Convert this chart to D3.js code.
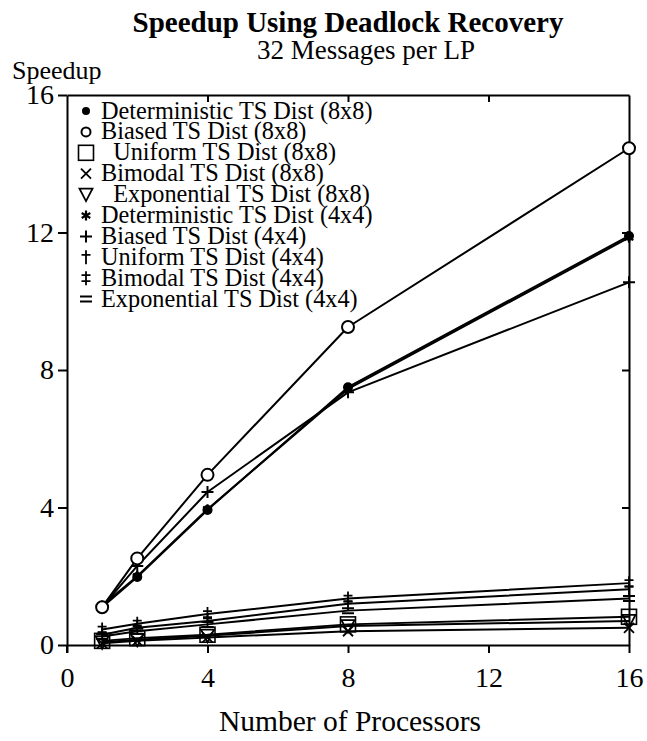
<!DOCTYPE html>
<html>
<head>
<meta charset="utf-8">
<script src="https://cdn.jsdelivr.net/npm/d3@7/dist/d3.min.js"></script>
<style>
  html, body { margin: 0; padding: 0; background: #fff; }
  svg { display: block; }
  text { font-family: "Liberation Serif", "Times New Roman", serif; fill: #000; }
</style>
</head>
<body>
<svg id="chart" width="647" height="741"></svg>
<script>
// Number of processors on the x axis
const processors = [1, 2, 4, 8, 16];

// Series names (legend order) and their marker kinds
const seriesNames = [
  "Deterministic TS Dist (8x8)",
  "Biased TS Dist (8x8)",
  "  Uniform TS Dist (8x8)",
  "Bimodal TS Dist (8x8)",
  "  Exponential TS Dist (8x8)",
  "Deterministic TS Dist (4x4)",
  "Biased TS Dist (4x4)",
  "Uniform TS Dist (4x4)",
  "Bimodal TS Dist (4x4)",
  "Exponential TS Dist (4x4)"
];
const seriesMarkers = ["dot", "circle", "square", "times", "tri", "star", "plus", "dagger", "ddagger", "equals"];

// Speedup per series, one value per processor count
const detSpeedup8   = [1.10, 1.98, 3.93, 7.50, 11.90];
const biasSpeedup8  = [1.10, 2.52, 4.95, 9.25, 14.45];
const unifSpeedup8  = [0.12, 0.20, 0.30, 0.60, 0.82];
const bimoSpeedup8  = [0.05, 0.12, 0.22, 0.40, 0.50];
const expoSpeedup8  = [0.08, 0.15, 0.27, 0.55, 0.70];
const detSpeedup4   = [1.15, 2.00, 3.95, 7.45, 11.85];
const biasSpeedup4  = [1.10, 2.30, 4.45, 7.35, 10.55];
const unifSpeedup4  = [0.30, 0.50, 0.70, 1.20, 1.62];
const bimoSpeedup4  = [0.45, 0.62, 0.90, 1.35, 1.80];
const expoSpeedup4  = [0.25, 0.40, 0.60, 1.00, 1.35];

const seriesValues = [detSpeedup8, biasSpeedup8, unifSpeedup8, bimoSpeedup8, expoSpeedup8,
                      detSpeedup4, biasSpeedup4, unifSpeedup4, bimoSpeedup4, expoSpeedup4];

const xTicks = [0, 4, 8, 12, 16];
const yTicks = [0, 4, 8, 12, 16];

const titleText = "Speedup Using Deadlock Recovery";
const subtitleText = "32 Messages per LP";
const yAxisTitle = "Speedup";
const xAxisTitle = "Number of Processors";

// ---- layout ----
const svg = d3.select("#chart");
const plotL = 67, plotR = 629, plotT = 95, plotB = 645;

const x = d3.scaleLinear().domain([0, 16]).range([plotL, plotR]);
const y = d3.scaleLinear().domain([0, 16]).range([plotB, plotT]);

// Marker shapes, drawn centred on the origin
function markerShape(g, kind, s) {
  const k = s || 1;
  switch (kind) {
    case "dot":
      g.append("circle").attr("r", 5 * k).attr("fill", "#000");
      break;
    case "circle":
      g.append("circle").attr("r", 6 * k).attr("fill", "#fff").attr("stroke", "#000").attr("stroke-width", 2);
      break;
    case "square":
      g.append("rect").attr("x", -7.5 * k).attr("y", -7.5 * k).attr("width", 15 * k).attr("height", 15 * k)
        .attr("fill", "none").attr("stroke", "#000").attr("stroke-width", 1.6);
      break;
    case "times":
      g.append("path").attr("d", `M${-5*k},${-5*k}L${5*k},${5*k}M${-5*k},${5*k}L${5*k},${-5*k}`)
        .attr("stroke", "#000").attr("stroke-width", 1.8);
      break;
    case "tri":
      g.append("path").attr("d", `M${-6.5*k},${-6*k}L${6.5*k},${-6*k}L0,${6.5*k}Z`)
        .attr("fill", "none").attr("stroke", "#000").attr("stroke-width", 1.8);
      break;
    case "star":
      g.append("path").attr("d", `M0,${-5*k}V${5*k}M${-4.3*k},${-2.5*k}L${4.3*k},${2.5*k}M${-4.3*k},${2.5*k}L${4.3*k},${-2.5*k}`)
        .attr("stroke", "#000").attr("stroke-width", 2.2);
      break;
    case "plus":
      g.append("path").attr("d", `M${-6*k},0H${6*k}M0,${-6*k}V${6*k}`)
        .attr("stroke", "#000").attr("stroke-width", 2);
      break;
    case "dagger":
      g.append("path").attr("d", `M0,${-7*k}V${7*k}M${-4.5*k},${-2.5*k}H${4.5*k}`)
        .attr("stroke", "#000").attr("stroke-width", 1.8);
      break;
    case "ddagger":
      g.append("path").attr("d", `M0,${-7*k}V${7*k}M${-4.5*k},${-3*k}H${4.5*k}M${-4.5*k},${3*k}H${4.5*k}`)
        .attr("stroke", "#000").attr("stroke-width", 1.8);
      break;
    case "equals":
      g.append("path").attr("d", `M${-6*k},${-2.5*k}H${6*k}M${-6*k},${2.5*k}H${6*k}`)
        .attr("stroke", "#000").attr("stroke-width", 2);
      break;
  }
}

// ---- titles ----
svg.append("text").attr("x", 348).attr("y", 32).attr("text-anchor", "middle")
  .attr("font-size", 29).attr("font-weight", "bold").text(titleText);
svg.append("text").attr("x", 366).attr("y", 59).attr("text-anchor", "middle")
  .attr("font-size", 27).text(subtitleText);
svg.append("text").attr("x", 12).attr("y", 79)
  .attr("font-size", 26).text(yAxisTitle);
svg.append("text").attr("x", 350).attr("y", 731).attr("text-anchor", "middle")
  .attr("font-size", 29.5).text(xAxisTitle);

// ---- axes ----
const axisFont = 28;
const gx = svg.append("g").attr("transform", `translate(0,${plotB})`)
  .call(d3.axisBottom(x).tickValues(xTicks).tickSize(8).tickSizeOuter(0).tickPadding(14).tickFormat(d3.format("d")));
const gy = svg.append("g").attr("transform", `translate(${plotL},0)`)
  .call(d3.axisLeft(y).tickValues(yTicks).tickSize(9).tickSizeOuter(0).tickPadding(4).tickFormat(d3.format("d")));
const gt = svg.append("g").attr("transform", `translate(0,${plotT})`)
  .call(d3.axisTop(x).tickValues(xTicks.slice(1, -1)).tickSize(-7).tickSizeOuter(0).tickFormat(""));
const gr = svg.append("g").attr("transform", `translate(${plotR},0)`)
  .call(d3.axisRight(y).tickValues(yTicks.slice(1, -1)).tickSize(-7).tickSizeOuter(0).tickFormat(""));

[gx, gy, gt, gr].forEach(g => {
  g.selectAll(".domain").attr("stroke", "#000").attr("stroke-width", 2);
  g.selectAll(".tick line").attr("stroke", "#000").attr("stroke-width", 2);
  g.selectAll(".tick text").attr("font-family", "Liberation Serif, serif").attr("font-size", axisFont).attr("fill", "#000");
});
// y axis extends slightly below the x axis
svg.append("line").attr("x1", plotL).attr("x2", plotL).attr("y1", plotB).attr("y2", plotB + 8)
  .attr("stroke", "#000").attr("stroke-width", 2);

// ---- series lines and markers ----
const line = d3.line().x((d, i) => x(processors[i])).y(d => y(d));
const plot = svg.append("g");

// lower-speedup series first, so the upper group sits on top
const drawOrder = [3, 4, 2, 9, 7, 8, 6, 5, 0, 1];
drawOrder.forEach(si => {
  plot.append("path").datum(seriesValues[si]).attr("d", line)
    .attr("fill", "none").attr("stroke", "#000").attr("stroke-width", 2).attr("stroke-linejoin", "round");
});
drawOrder.forEach(si => {
  seriesValues[si].forEach((v, i) => {
    const g = plot.append("g").attr("transform", `translate(${x(processors[i])},${y(v)})`);
    markerShape(g, seriesMarkers[si], 1);
  });
});

// ---- legend ----
const legend = svg.append("g");
const rowStep = 20.9, firstRow = 111;
seriesNames.forEach((name, i) => {
  const cy = firstRow + i * rowStep;
  const g = legend.append("g").attr("transform", `translate(86,${cy})`);
  const kind = seriesMarkers[i];
  const scale = (kind === "dot") ? 0.8 : (kind === "circle" ? 0.75 : 1);
  markerShape(g, kind, scale);
  legend.append("text").attr("x", 101).attr("y", cy + 7.5)
    .attr("font-size", 24.3).style("white-space", "pre").text(name);
});
</script>
</body>
</html>
